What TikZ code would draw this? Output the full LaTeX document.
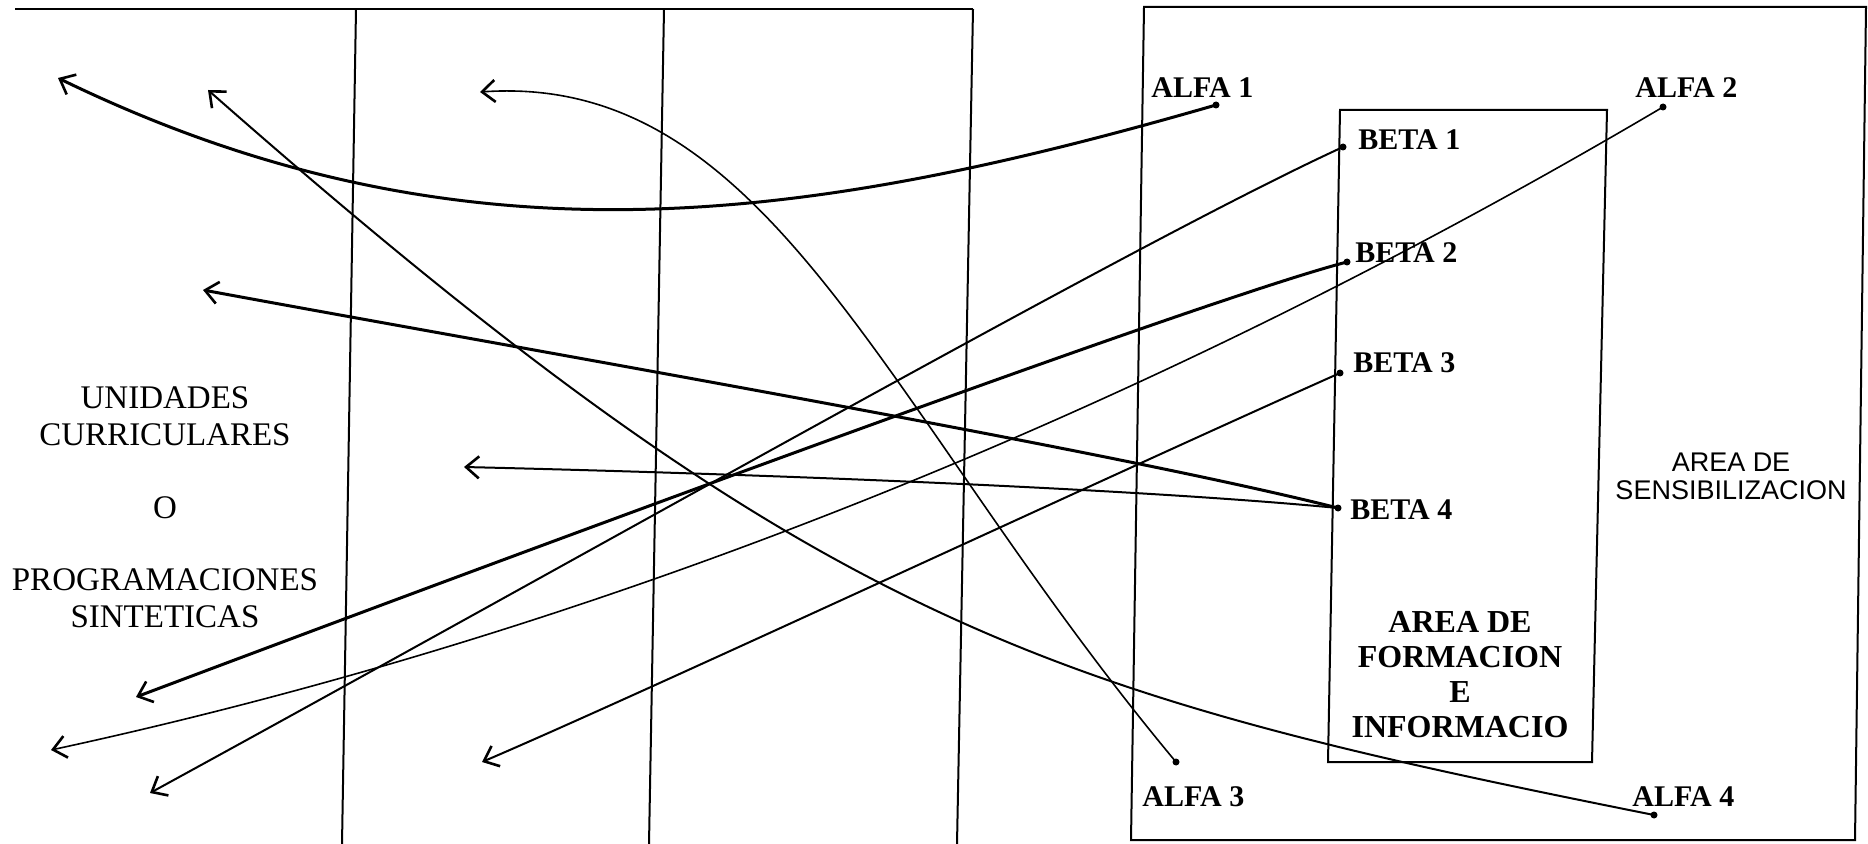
\documentclass[tikz,border=0pt]{standalone}
\usepackage{fontspec}
\setmainfont{Liberation Serif}
\newfontfamily\sensfont{Liberation Sans}
\usetikzlibrary{arrows.meta}
\begin{document}
\begin{tikzpicture}[x=0.5pt,y=-0.5pt,
  frame/.style={line width=1pt},
  conn/.style={line width=1pt,-{Straight Barb[length=6.5pt,width=11pt,line width=1.3pt]}},
  thinconn/.style={conn,line width=0.8pt},
  thickconn/.style={conn,line width=1.5pt},
  lbl/.style={font=\bfseries\fontsize{15}{18}\selectfont,anchor=west,inner sep=0pt},
  dot/.style={circle,fill,inner sep=0pt,minimum size=3.5pt},
  lefttxt/.style={font=\fontsize{16.5}{18.5}\selectfont,align=center,inner sep=0pt},
  boxtxt/.style={font=\bfseries\fontsize{16}{17.5}\selectfont,align=center,inner sep=0pt},
  senstxt/.style={font=\sensfont\fontsize{13.5}{14}\selectfont,align=center,inner sep=0pt},
]
\useasboundingbox (0,0) rectangle (1868,844);

% left frame
\draw[frame] (15,9) -- (973,9);
\draw[frame] (356,9) -- (342,844);
\draw[frame] (664,9) -- (649,844);
\draw[frame] (973,9) -- (957,844);

% right frame and inner box
\draw[frame] (1144,7) -- (1866,7) -- (1855,840) -- (1131,840) -- cycle;
\draw[frame] (1340,110) -- (1607,110) -- (1592,762) -- (1328,762) -- cycle;

% texts
\node[lefttxt] (unid) at (165,416) {UNIDADES\\CURRICULARES};
\node[lefttxt] (o) at (165,508) {O};
\node[lefttxt] (prog) at (165,598) {PROGRAMACIONES\\SINTETICAS};
\node[boxtxt] (form) at (1460,675) {AREA DE\\FORMACION\\E\\INFORMACIO};
\node[senstxt] (sens) at (1731,476) {AREA DE\\SENSIBILIZACION};

\node[lbl] (alfa1) at (1151,88) {ALFA 1};
\node[lbl] (alfa2) at (1635,88) {ALFA 2};
\node[lbl] (beta1) at (1358,140) {BETA 1};
\node[lbl] (beta2) at (1355,253) {BETA 2};
\node[lbl] (beta3) at (1353,363) {BETA 3};
\node[lbl] (beta4) at (1350,510) {BETA 4};
\node[lbl] (alfa3) at (1142,797) {ALFA 3};
\node[lbl] (alfa4) at (1632,797) {ALFA 4};

% start dots
\node[dot] (da1) at (1216,105) {};
\node[dot] (da2) at (1663,107) {};
\node[dot] (db1) at (1343,147) {};
\node[dot] (db2) at (1347,262) {};
\node[dot] (db3) at (1340,373) {};
\node[dot] (db4) at (1338,508) {};
\node[dot] (da3) at (1176,762) {};
\node[dot] (da4) at (1654,815) {};

% arrow tips
\coordinate (ta1) at (58,78);
\coordinate (ta2) at (51,750);
\coordinate (tb1) at (150,793);
\coordinate (tb2) at (136,697);
\coordinate (tb3) at (482,762);
\coordinate (tb4a) at (203,290);
\coordinate (tb4b) at (464,467);
\coordinate (tc) at (208,90);
\coordinate (ta3) at (480,92);

% connectors
\draw[thickconn] (da1.center) .. controls (811,222) and (463,275) .. (ta1);
\draw[thinconn] (da2.center) .. controls (1131,421) and (583,635) .. (ta2);
\draw[conn] (db1.center) .. controls (1140,240) and (600,547) .. (tb1);
\draw[thickconn] (db2.center) .. controls (1200,300) and (500,560) .. (tb2);
\draw[conn] (db3.center) .. controls (1100,480) and (650,690) .. (tb3);
\draw[thickconn] (db4.center) .. controls (1100,448) and (500,345) .. (tb4a);
\draw[conn] (db4.center) .. controls (1150,490) and (800,475) .. (tb4b);
\draw[conn] (da4.center) .. controls (1044,693) and (818,627) .. (tc);
\draw[thinconn] (da3.center) .. controls (884,412) and (772,72) .. (ta3);
\end{tikzpicture}
\end{document}
